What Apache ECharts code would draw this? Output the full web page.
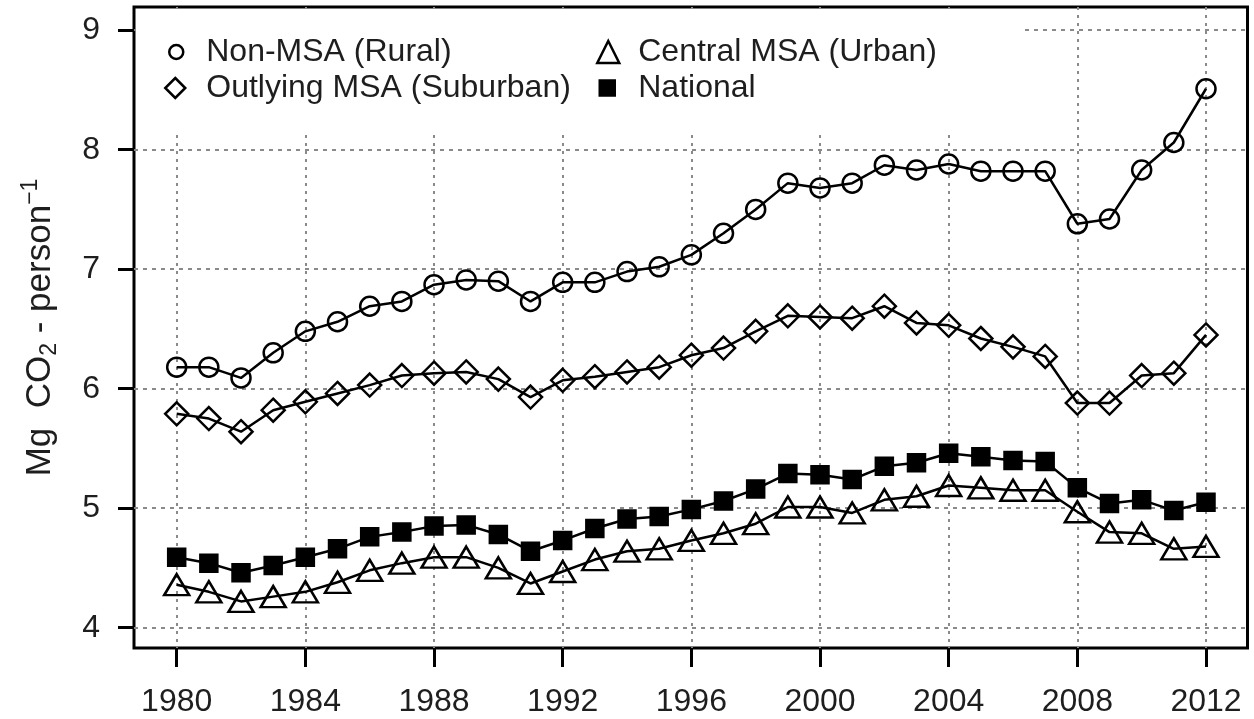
<!DOCTYPE html>
<html>
<head>
<meta charset="utf-8">
<script src="https://cdn.jsdelivr.net/npm/echarts@6/dist/echarts.min.js"></script>
<style>
html,body{margin:0;padding:0;background:#fff;}
#chart{width:1254px;height:719px;}
</style>
</head>
<body>
<div id="chart"></div>
<script>
const years = [1980,1981,1982,1983,1984,1985,1986,1987,1988,1989,1990,1991,1992,1993,1994,1995,1996,1997,1998,1999,2000,2001,2002,2003,2004,2005,2006,2007,2008,2009,2010,2011,2012];
const nonMSA = [6.18,6.18,6.09,6.30,6.48,6.56,6.69,6.73,6.87,6.91,6.90,6.73,6.89,6.89,6.98,7.02,7.12,7.30,7.50,7.72,7.68,7.72,7.87,7.83,7.88,7.82,7.82,7.82,7.38,7.42,7.83,8.06,8.51];
const outlying = [5.79,5.75,5.64,5.82,5.89,5.96,6.03,6.11,6.13,6.14,6.08,5.93,6.07,6.10,6.14,6.18,6.28,6.34,6.48,6.61,6.60,6.59,6.69,6.55,6.53,6.42,6.35,6.27,5.88,5.88,6.11,6.13,6.45];
const central = [4.36,4.30,4.22,4.26,4.30,4.38,4.48,4.54,4.59,4.59,4.50,4.37,4.47,4.57,4.64,4.66,4.73,4.79,4.87,5.01,5.01,4.96,5.07,5.10,5.19,5.17,5.15,5.15,4.97,4.80,4.79,4.66,4.68];
const national = [4.59,4.54,4.46,4.52,4.59,4.66,4.76,4.80,4.85,4.86,4.78,4.64,4.73,4.83,4.91,4.93,4.99,5.06,5.16,5.29,5.28,5.24,5.35,5.38,5.46,5.43,5.40,5.39,5.17,5.04,5.07,4.98,5.05];
const xTicks = [1980,1984,1988,1992,1996,2000,2004,2008,2012];
const yTicks = [4,5,6,7,8,9];
const names = ['Non-MSA (Rural)','Outlying MSA (Suburban)','Central MSA (Urban)','National'];

const FONT = 'Liberation Sans, Arial, Helvetica, sans-serif';
const TXT = '#1e1e1e';
const pair = arr => years.map((y,i)=>[y,arr[i]]);

const chart = echarts.init(document.getElementById('chart'), null, {renderer:'canvas'});

function mkSeries(name, data, symbol, size, fill){
  return {
    name, type:'line', data: pair(data), symbol, symbolSize: size, z: 5,
    showAllSymbol: true,
    lineStyle:{color:'#000', width:2.5},
    itemStyle:{color: fill, borderColor:'#000', borderWidth: 2.5},
    emphasis:{disabled:true}
  };
}
function mkLegend(name, icon, size, left, top, padLeft){
  return {
    data:[{name, icon}], left, top, orient:'vertical',
    itemWidth: size, itemHeight: size,
    selectedMode:false,
    textStyle:{fontSize:32, color:TXT, fontFamily:FONT, padding:[0,0,0,padLeft]},
    itemStyle:{borderColor:'#000', borderWidth:2.5},
    padding:0
  };
}

const option = {
  animation:false,
  backgroundColor:'#fff',
  grid:{left:134, right:6.5, top:7, bottom:71, show:true, borderColor:'#000', borderWidth:3, containLabel:false},
  xAxis:{
    type:'value', min:1978.673, max:2013.29,
    axisLine:{show:false},
    axisTick:{show:true, length:19, lineStyle:{color:'#000', width:3}, customValues:xTicks},
    axisLabel:{margin:38, fontSize:32, color:TXT, fontFamily:FONT, customValues:xTicks, formatter: v=>String(v)},
    splitLine:{show:true, lineStyle:{color:'#8a8a8a', width:2, type:[3,5]}}
  },
  yAxis:{
    type:'value', min:3.830, max:9.194,
    axisLine:{show:false},
    axisTick:{show:true, length:16, lineStyle:{color:'#000', width:3}, customValues:yTicks},
    axisLabel:{margin:34, fontSize:32, color:TXT, fontFamily:FONT, customValues:yTicks, formatter: v=>String(v)},
    splitLine:{show:true, lineStyle:{color:'#8a8a8a', width:2, type:[4,5]}},
    name:'{n|Mg  CO}{s|2}{n| - person}{p|−1}',
    nameLocation:'middle', nameRotate:90, nameGap:73,
    nameTextStyle:{
      color:TXT, fontFamily:FONT,
      rich:{
        n:{fontSize:35, lineHeight:42, verticalAlign:'middle', color:TXT, fontFamily:FONT},
        s:{fontSize:23, lineHeight:23, verticalAlign:'bottom', color:TXT, fontFamily:FONT},
        p:{fontSize:23, lineHeight:23, verticalAlign:'top', color:TXT, fontFamily:FONT}
      }
    }
  },
  graphic:{
    elements:[{type:'rect', z:1, silent:true, shape:{x:136, y:9, width:886, height:125}, style:{fill:'#fff'}}]
  },
  legend:[
    mkLegend(names[0],'circle',14,168,36,18),
    mkLegend(names[1],'diamond',20,164,72,16),
    mkLegend(names[2],'triangle',22,596,36,14),
    mkLegend(names[3],'rect',15,598.5,72,18.5)
  ],
  series:[
    mkSeries(names[0], nonMSA, 'circle', 19, 'rgba(255,255,255,0)'),
    mkSeries(names[1], outlying, 'diamond', 23, 'rgba(255,255,255,0)'),
    mkSeries(names[2], central, 'triangle', [25,21], 'rgba(255,255,255,0)'),
    mkSeries(names[3], national, 'rect', 17, '#000')
  ]
};
chart.setOption(option);
</script>
</body>
</html>
